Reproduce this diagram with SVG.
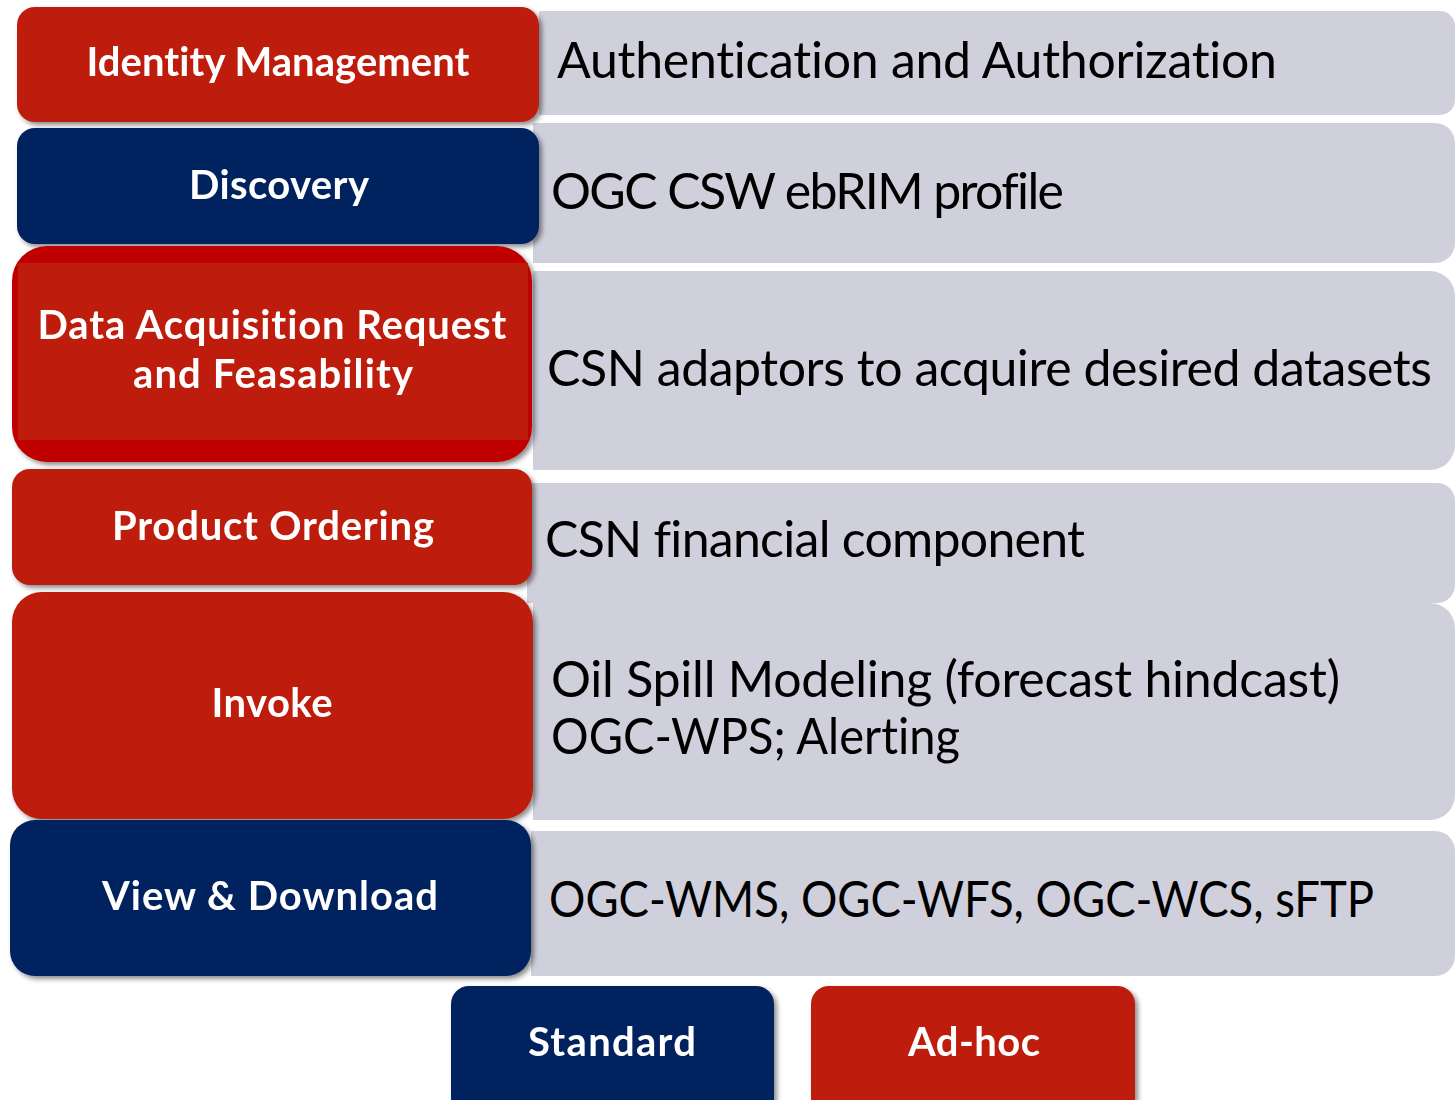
<svg xmlns="http://www.w3.org/2000/svg" width="1456" height="1100" viewBox="0 0 1456 1100">
  <defs>
    <filter id="shadow" x="-5%" y="-10%" width="112%" height="125%">
      <feDropShadow dx="3" dy="3" stdDeviation="2.5" flood-color="#000" flood-opacity="0.45"/>
    </filter>
  </defs>
  <style>
    .panel { fill: #D0D0DD; }
    .red { fill: #BE1B0A; }
    .red-dark { fill: #C00000; }
    .navy { fill: #02215F; }
    .box { filter: url(#shadow); }
    text { font-variant-ligatures: none; font-feature-settings: "liga" 0, "clig" 0, "dlig" 0; }
    .label { font-family: Lato, "Open Sans", "Liberation Sans", sans-serif; font-weight: 700; font-size: 40px; fill: #FFFFFF; text-anchor: middle; }
    .desc { font-family: Lato, "Open Sans", "Liberation Sans", sans-serif; font-weight: 400; font-size: 50px; fill: #000000; }
  </style>
  <rect width="1456" height="1100" fill="#FFFFFF"/>

  <!-- description panels (square left edge, rounded right edge) -->
  <g id="panels">
    <g id="panel-identity">
      <path class="panel" d="M539,11 H1440 A15,15 0 0 1 1455,26 V100 A15,15 0 0 1 1440,115 H539 Z"/>
      <text class="desc" x="557" y="78" textLength="720">Authentication and Authorization</text>
    </g>
    <g id="panel-discovery">
      <path class="panel" d="M533,123 H1435 A20,20 0 0 1 1455,143 V243 A20,20 0 0 1 1435,263 H533 Z"/>
      <text class="desc" x="551" y="209" textLength="513">OGC CSW ebRIM profile</text>
    </g>
    <g id="panel-acquisition">
      <path class="panel" d="M533,271 H1430 A25,25 0 0 1 1455,296 V445 A25,25 0 0 1 1430,470 H533 Z"/>
      <text class="desc" x="547" y="386" textLength="885">CSN adaptors to acquire desired datasets</text>
    </g>
    <g id="panel-ordering">
      <path class="panel" d="M527,483 H1437 A18,18 0 0 1 1455,501 V585 A18,18 0 0 1 1437,603 H527 Z"/>
      <text class="desc" x="545" y="557" textLength="540">CSN financial component</text>
    </g>
    <g id="panel-invoke">
      <path class="panel" d="M533,603 H1430 A25,25 0 0 1 1455,628 V795 A25,25 0 0 1 1430,820 H533 Z"/>
      <text class="desc" x="551" y="697" textLength="789">Oil Spill Modeling (forecast hindcast)</text>
      <text class="desc" x="551" y="754" textLength="409" lengthAdjust="spacingAndGlyphs">OGC-WPS; Alerting</text>
    </g>
    <g id="panel-view">
      <path class="panel" d="M531,831 H1435 A20,20 0 0 1 1455,851 V956 A20,20 0 0 1 1435,976 H531 Z"/>
      <text class="desc" x="549" y="917" textLength="825" lengthAdjust="spacingAndGlyphs">OGC-WMS, OGC-WFS, OGC-WCS, sFTP</text>
    </g>
  </g>

  <!-- service category boxes -->
  <g id="identity-management" class="box">
    <rect class="red" x="17" y="7" width="522" height="115" rx="18"/>
    <text class="label" x="278" y="76" textLength="383">Identity Management</text>
  </g>
  <g id="discovery" class="box">
    <rect class="navy" x="17" y="128" width="522" height="116" rx="18"/>
    <text class="label" x="279" y="199" textLength="180">Discovery</text>
  </g>
  <g id="data-acquisition" class="box">
    <rect class="red-dark" x="12" y="246" width="520" height="216" rx="35"/>
    <rect class="red" x="18" y="263" width="510" height="177"/>
    <text class="label" x="272" y="339" textLength="469">Data Acquisition Request</text>
    <text class="label" x="273" y="388" textLength="280">and Feasability</text>
  </g>
  <g id="product-ordering" class="box">
    <rect class="red" x="12" y="469" width="520" height="116" rx="18"/>
    <text class="label" x="273" y="540" textLength="322">Product Ordering</text>
  </g>
  <g id="invoke" class="box">
    <rect class="red" x="12" y="592" width="521" height="227" rx="30"/>
    <text class="label" x="272" y="717" textLength="121">Invoke</text>
  </g>
  <g id="view-download" class="box">
    <rect class="navy" x="10" y="820" width="521" height="156" rx="25"/>
    <text class="label" x="270" y="910" textLength="336">View &amp; Download</text>
  </g>

  <!-- legend -->
  <g id="legend-standard" class="box">
    <rect class="navy" x="451" y="986" width="323" height="130" rx="18"/>
    <text class="label" x="612" y="1056" textLength="168">Standard</text>
  </g>
  <g id="legend-adhoc" class="box">
    <rect class="red" x="811" y="986" width="324" height="130" rx="18"/>
    <text class="label" x="974" y="1056" textLength="132">Ad-hoc</text>
  </g>

  <g id="connectors"/>
</svg>
